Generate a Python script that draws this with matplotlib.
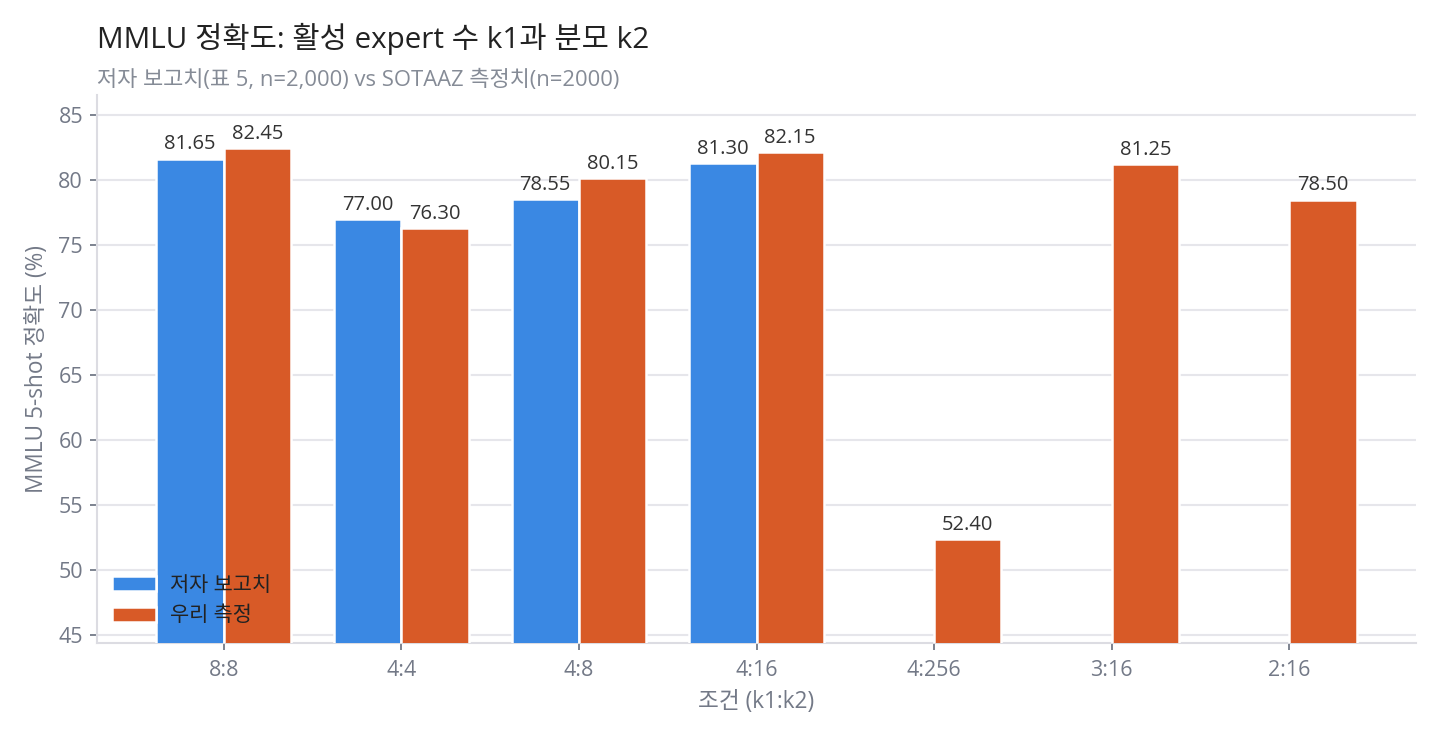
import numpy as np
import matplotlib
matplotlib.use("Agg")
import matplotlib.pyplot as plt

plt.rcParams['font.family'] = ['Open Sans', 'Noto Sans CJK KR', 'DejaVu Sans']

categories = ["8:8", "4:4", "4:8", "4:16", "4:256", "3:16", "2:16"]
reported = [81.65, 77.00, 78.55, 81.30, np.nan, np.nan, np.nan]
measured = [82.45, 76.30, 80.15, 82.15, 52.40, 81.25, 78.50]
series_names = ["저자 보고치", "우리 측정"]
yticks = [45, 50, 55, 60, 65, 70, 75, 80, 85]

title = "MMLU 정확도: 활성 expert 수 k1과 분모 k2"
subtitle = "저자 보고치(표 5, n=2,000) vs SOTAAZ 측정치(n=2000)"
xlabel = "조건 (k1:k2)"
ylabel = "MMLU 5-shot 정확도 (%)"

BLUE = "#3A88E3"
ORANGE = "#D85A27"
GRID = "#E6E6EB"
SPINE = "#DCDCE2"
TICKC = "#737987"
DARK = "#222222"

fig = plt.figure(figsize=(14.4, 7.36), dpi=100)
ax = fig.add_axes([97/1440, 1 - 643/736, (1416-97)/1440, (643-95)/736])

x = np.arange(len(categories))
w = 0.38
off = 0.19
ax.bar(x - off, reported, width=w, color=BLUE, edgecolor="white", linewidth=1.8, label=series_names[0], zorder=3)
ax.bar(x + off, measured, width=w, color=ORANGE, edgecolor="white", linewidth=1.8, label=series_names[1], zorder=3)

for xs, vals in ((x - off, reported), (x + off, measured)):
    for xi, v in zip(xs, vals):
        if np.isnan(v):
            continue
        ax.annotate(f"{v:.2f}", (xi, v), xytext=(0, 3), textcoords="offset points",
                    ha="center", va="bottom", fontsize=14.5, color="#333333", zorder=4)

ax.set_xlim(-0.715, 6.715)
ax.set_ylim(44.38, 86.54)
ax.set_yticks(yticks)
ax.set_xticks(x)
ax.set_xticklabels(categories)

ax.grid(axis="y", color=GRID, linewidth=1.5, zorder=0)
ax.set_axisbelow(True)
for s in ("top", "right"):
    ax.spines[s].set_visible(False)
for s in ("left", "bottom"):
    ax.spines[s].set_color(SPINE)
    ax.spines[s].set_linewidth(1.5)

ax.tick_params(axis="both", colors=TICKC, labelsize=15.5, length=5, width=1.3, pad=5)
ax.tick_params(axis="x", pad=7)

ax.set_xlabel(xlabel, fontsize=16.3, color=TICKC, labelpad=7)
ax.set_ylabel(ylabel, fontsize=16.3, color=TICKC, labelpad=7)

leg = ax.legend(loc="lower left", bbox_to_anchor=(-0.003, -0.004), frameon=False, fontsize=15,
                handlelength=2.1, handleheight=0.75, handletextpad=0.7, labelspacing=0.45)
for t in leg.get_texts():
    t.set_color(DARK)

fig.text(97/1440, 1 - 48/736, title, fontsize=21.3, color=DARK, ha="left", va="baseline")
fig.text(97/1440, 1 - 86/736, subtitle, fontsize=15.8, color="#858B96", ha="left", va="baseline")

fig.savefig("out.png", dpi=100)
